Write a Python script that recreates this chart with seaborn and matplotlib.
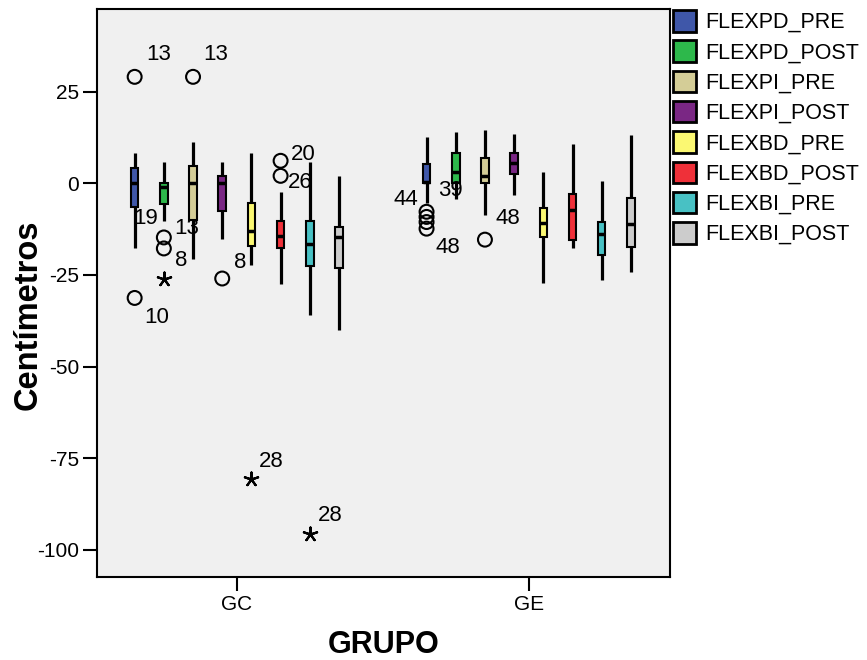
import numpy as np
import pandas as pd
import matplotlib
matplotlib.use("Agg")
import matplotlib.pyplot as plt
from matplotlib.patches import Patch
import seaborn as sns

# DATOS
groups = ["GC", "GE"]
variables = ["FLEXPD_PRE", "FLEXPD_POST", "FLEXPI_PRE", "FLEXPI_POST",
             "FLEXBD_PRE", "FLEXBD_POST", "FLEXBI_PRE", "FLEXBI_POST"]
colors = ["#3F57A9", "#2DB84B", "#D4CD97", "#7A2784",
          "#FBF872", "#EF3039", "#48C1C4", "#CCCCCC"]

# resumen de cinco números: bigote inferior, Q1, mediana, Q3, bigote superior
gc_low = [-17.8, -10.3, -20.8, -15.3, -22.2, -27.6, -36.0, -40.1]
gc_q1 = [-6.4, -5.7, -10.1, -7.7, -17.2, -17.8, -22.6, -23.1]
gc_med = [0.1, -1.0, 0.1, 0.1, -13.0, -14.5, -16.7, -14.6]
gc_q3 = [4.1, 0.0, 4.7, 2.0, -5.5, -10.3, -10.3, -11.9]
gc_high = [8.2, 5.7, 11.1, 5.7, 8.2, -2.4, 5.8, 2.0]

ge_low = [-5.5, -4.2, -8.7, -3.3, -27.2, -17.8, -26.3, -24.2]
ge_q1 = [0.0, 0.1, 0.1, 2.5, -14.8, -15.6, -19.5, -17.4]
ge_med = [0.3, 3.1, 1.9, 5.4, -10.8, -7.4, -13.9, -11.0]
ge_q3 = [5.1, 8.1, 7.0, 8.1, -6.9, -3.0, -10.6, -4.0]
ge_high = [12.6, 14.0, 14.6, 13.3, 3.1, 10.6, 0.6, 13.1]

# valores atípicos (círculos)
out_group = ["GC", "GC", "GC", "GC", "GC", "GC", "GC", "GC",
             "GE", "GE", "GE", "GE", "GE"]
out_var = ["FLEXPD_PRE", "FLEXPD_PRE", "FLEXPD_POST", "FLEXPD_POST",
           "FLEXPI_PRE", "FLEXPI_POST", "FLEXBD_POST", "FLEXBD_POST",
           "FLEXPD_PRE", "FLEXPD_PRE", "FLEXPD_PRE", "FLEXPD_PRE", "FLEXPI_PRE"]
out_value = [29.0, -31.3, -14.8, -17.8, 29.0, -26.0, 6.1, 2.0,
             -7.8, -9.2, -10.6, -12.4, -15.4]
out_case = ["13", "10", "13", "8", "13", "8", "20", "26",
            "44", "", "", "48", "48"]

# valores extremos (estrellas)
ext_group = ["GC", "GC", "GC"]
ext_var = ["FLEXPD_POST", "FLEXBD_PRE", "FLEXBI_PRE"]
ext_value = [-26.0, -80.8, -95.8]
ext_case = ["", "28", "28"]

# etiquetas cuyo marcador queda tapado por el bigote
hid_group = ["GC", "GE"]
hid_var = ["FLEXPD_PRE", "FLEXPD_POST"]
hid_value = [-9.6, -1.9]
hid_case = ["19", "39"]

# desplazamiento de cada etiqueta respecto a su punto (px, y hacia arriba)
label_offsets = {
    ("GC", "FLEXPD_PRE", "13"): (24, 22),
    ("GC", "FLEXPD_PRE", "10"): (22, -20),
    ("GC", "FLEXPD_PRE", "19"): (11, 0),
    ("GC", "FLEXPD_POST", "13"): (23, 9),
    ("GC", "FLEXPD_POST", "8"): (17, -12),
    ("GC", "FLEXPI_PRE", "13"): (23, 22),
    ("GC", "FLEXPI_POST", "8"): (18, 16),
    ("GC", "FLEXBD_PRE", "28"): (20, 18),
    ("GC", "FLEXBD_POST", "20"): (23, 6),
    ("GC", "FLEXBD_POST", "26"): (20, -7),
    ("GC", "FLEXBI_PRE", "28"): (20, 19),
    ("GE", "FLEXPD_PRE", "44"): (-21, 12),
    ("GE", "FLEXPD_PRE", "48"): (21, -19),
    ("GE", "FLEXPD_POST", "39"): (-5, 0),
    ("GE", "FLEXPI_PRE", "48"): (23, 21),
}

# tabla larga para seaborn: 5 filas por caja (min, Q1, mediana, Q3, max)
rows = []
for g, stats in [("GC", (gc_low, gc_q1, gc_med, gc_q3, gc_high)),
                 ("GE", (ge_low, ge_q1, ge_med, ge_q3, ge_high))]:
    for i, v in enumerate(variables):
        for s in stats:
            rows.append({"GRUPO": g, "variable": v, "value": s[i]})
box_df = pd.DataFrame(rows)
out_df = pd.DataFrame({"GRUPO": out_group, "variable": out_var, "value": out_value})
ext_df = pd.DataFrame({"GRUPO": ext_group, "variable": ext_var, "value": ext_value})

palette = dict(zip(variables, colors))
black = dict(zip(variables, ["black"] * len(variables)))

sns.set_theme(style="white")
plt.rcParams["font.family"] = ["Liberation Sans", "DejaVu Sans"]
plt.rcParams["text.color"] = "black"
plt.rcParams["axes.labelcolor"] = "black"

fig = plt.figure(figsize=(8.67, 6.6), dpi=100)
ax = fig.add_axes([97 / 867, 83 / 660, 573 / 867, 568 / 660])
ax.set_facecolor("#F0F0F0")

sns.boxplot(data=box_df, x="GRUPO", y="value", hue="variable",
            order=groups, hue_order=variables, palette=palette,
            width=0.8, gap=0.74, whis=(0, 100), showfliers=False,
            showcaps=False, saturation=1, linewidth=1.5, linecolor="black",
            medianprops=dict(linewidth=2.5, color="black"),
            whiskerprops=dict(linewidth=2.3, color="black"),
            legend=False, ax=ax)

n0 = len(ax.collections)
sns.stripplot(data=out_df, x="GRUPO", y="value", hue="variable",
              order=groups, hue_order=variables, palette=black,
              dodge=True, jitter=False, marker="o", size=10,
              legend=False, ax=ax)
for coll in ax.collections[n0:]:
    coll.set_facecolor("none")
    coll.set_edgecolor("black")
    coll.set_linewidth(1.5)

n1 = len(ax.collections)
sns.stripplot(data=ext_df, x="GRUPO", y="value", hue="variable",
              order=groups, hue_order=variables, palette=black,
              dodge=True, jitter=False, marker=(5, 2, 0), size=10,
              legend=False, ax=ax)
for coll in ax.collections[n1:]:
    coll.set_edgecolor("black")
    coll.set_linewidth(1.6)


def hue_x(group, var):
    # misma posición que usa seaborn al esquivar (ancho 0.8)
    return groups.index(group) + (variables.index(var) - 3.5) * 0.8 / len(variables)


all_labels = list(zip(out_group, out_var, out_value, out_case)) + \
    list(zip(ext_group, ext_var, ext_value, ext_case)) + \
    list(zip(hid_group, hid_var, hid_value, hid_case))
for g, v, val, case in all_labels:
    if not case:
        continue
    dx, dy = label_offsets[(g, v, case)]
    ax.annotate(case, xy=(hue_x(g, v), val), xytext=(dx * 0.72, dy * 0.72),
                textcoords="offset points", ha="center", va="center",
                fontsize=16, color="black")

ax.set_xlim(-0.479, 1.484)
ax.set_ylim(-107.4, 47.5)
ax.set_yticks([-100, -75, -50, -25, 0, 25])
ax.set_yticklabels(["-100", "-75", "-50", "-25", "0", "25"])
ax.tick_params(axis="both", direction="out", length=10, width=1.5,
               labelsize=15, pad=3, colors="black", left=True, bottom=True)
for sp in ax.spines.values():
    sp.set_visible(True)
    sp.set_color("black")
    sp.set_linewidth(1.5)

ax.set_xlabel("GRUPO", fontsize=22, fontweight="bold", color="black")
ax.set_ylabel("Centímetros", fontsize=23.5, fontweight="bold", color="black")
ax.xaxis.set_label_coords(0.5, -0.093)
ax.yaxis.set_label_coords(-0.094, 0.461)

handles = [Patch(facecolor=c, edgecolor="black", linewidth=2) for c in colors]
ax.legend(handles, variables, loc="upper left", bbox_to_anchor=(1.006, 0.998),
          frameon=False, fontsize=15.5, borderpad=0, borderaxespad=0,
          handlelength=1.05, handleheight=1.15, handletextpad=0.42,
          labelspacing=0.34, labelcolor="black")

fig.savefig("out.png", dpi=100)
